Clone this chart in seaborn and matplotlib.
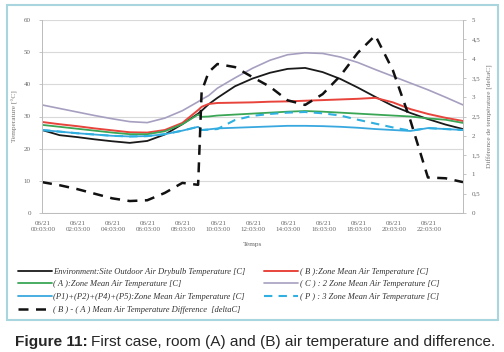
import numpy as np
import pandas as pd
import matplotlib
matplotlib.use("Agg")
import matplotlib.pyplot as plt
import seaborn as sns
from matplotlib.patches import Rectangle
from matplotlib.ticker import FuncFormatter

# --- Datos (hora del día) ---
hours = [0, 1, 2, 3, 4, 5, 6, 7, 8, 8.9, 9.1, 9.5, 10, 11, 12, 13, 14, 15,
         16, 17, 18, 19, 20, 21, 22, 23, 24]

outdoor = [25.8, 24.2, 23.6, 22.9, 22.3, 21.8, 22.4, 24.4, 27.6, 30.9, 31.8, 33.8,
           35.8, 39.4, 41.8, 43.6, 44.8, 45.1, 43.8, 41.7, 39.0, 36.1, 33.3, 31.1,
           29.2, 27.5, 26.1]
zone_b = [28.3, 27.6, 27.0, 26.3, 25.7, 25.1, 25.0, 25.8, 28.0, 32.0, 33.0, 33.9,
          34.2, 34.3, 34.4, 34.6, 34.7, 34.9, 35.1, 35.3, 35.5, 35.8, 34.4, 32.3,
          30.8, 29.6, 28.6]
zone_a = [27.4, 26.8, 26.2, 25.6, 25.0, 24.5, 24.5, 25.4, 27.6, 30.6, 29.9, 30.0,
          30.3, 30.6, 30.9, 31.2, 31.5, 31.7, 31.5, 31.2, 30.9, 30.6, 30.3, 30.0,
          29.4, 29.0, 28.0]
zone_c = [33.6, 32.5, 31.4, 30.3, 29.3, 28.4, 28.1, 29.5, 31.8, 34.6, 35.3, 36.5,
          38.8, 42.0, 45.0, 47.5, 49.2, 49.8, 49.6, 48.5, 46.8, 44.6, 42.5, 40.4,
          38.3, 36.0, 33.6]
zone_p = [25.8, 25.3, 24.8, 24.4, 24.0, 23.8, 23.9, 24.5, 25.6, 26.8, 25.8, 26.0,
          26.3, 26.5, 26.7, 26.9, 27.1, 27.1, 27.0, 26.8, 26.5, 26.1, 25.8, 25.5,
          26.4, 26.1, 25.8]
zone_p3 = [25.8, 25.3, 24.8, 24.4, 24.0, 23.8, 23.9, 24.5, 25.6, 26.8, 25.8, 25.9,
           26.1, 28.9, 30.2, 30.8, 31.2, 31.4, 31.0, 30.3, 29.0, 27.8, 26.6, 25.6,
           26.4, 26.1, 25.8]
diff_ba = [0.80, 0.72, 0.62, 0.50, 0.38, 0.31, 0.33, 0.52, 0.78, 0.73, 3.15, 3.65,
           3.86, 3.78, 3.52, 3.27, 2.92, 2.80, 3.08, 3.55, 4.15, 4.60, 3.70, 2.40,
           0.92, 0.90, 0.80]

labels = ["Environment:Site Outdoor Air Drybulb Temperature [C]",
          "( A ):Zone Mean Air Temperature [C]",
          "(P1)+(P2)+(P4)+(P5):Zone Mean Air Temperature [C]",
          "( B ) - ( A ) Mean Air Temperature Difference  [deltaC]",
          "( B ):Zone Mean Air Temperature [C]",
          "( C ) : 2 Zone Mean Air Temperature [C]",
          "( P ) : 3 Zone Mean Air Temperature [C]"]

tick_hours = [0.05 + 2 * k for k in range(12)]
tick_labels = ["06/21\n%02d:03:00" % (2 * k) for k in range(12)]

sns.set_style("white")
plt.rcParams['font.family'] = ['Liberation Serif', 'DejaVu Serif']

fig = plt.figure(figsize=(5.04, 3.52), dpi=100)
ax = fig.add_axes([42 / 504, 1 - 213 / 352, 421 / 504, 193 / 352])
ax2 = ax.twinx()

df = pd.DataFrame({'h': hours, 'out': outdoor, 'a': zone_a, 'p': zone_p,
                   'b': zone_b, 'c': zone_c, 'p3': zone_p3, 'd': diff_ba})

sns.lineplot(data=df, x='h', y='c', ax=ax, color='#a79fc0', lw=1.2)
sns.lineplot(data=df, x='h', y='out', ax=ax, color='#1a1a1a', lw=1.3)
sns.lineplot(data=df, x='h', y='b', ax=ax, color='#e8443c', lw=1.4)
sns.lineplot(data=df, x='h', y='a', ax=ax, color='#3aa655', lw=1.3)
sns.lineplot(data=df, x='h', y='p', ax=ax, color='#39a8df', lw=1.3)
sns.lineplot(data=df, x='h', y='p3', ax=ax, color='#2fb0e0', lw=1.5, linestyle='--')
ax.lines[5].set_dashes((4, 3))
sns.lineplot(data=df, x='h', y='d', ax=ax2, color='#111111', lw=1.8, linestyle='--')
ax2.lines[0].set_dashes((4, 3))

ax.set_xlim(0, 24)
ax.set_ylim(0, 60)
ax2.set_ylim(0, 5)
ax.set_yticks(range(0, 61, 10))
ax2.set_yticks(np.arange(0, 5.01, 0.5))
ax2.yaxis.set_major_formatter(FuncFormatter(lambda v, p: ("%g" % v).replace('.', ',')))
ax.set_xticks(tick_hours)
ax.set_xticklabels(tick_labels)
ax.set_xticks(range(0, 25), minor=True)

ax.grid(axis='y', color='#d9d9d9', lw=0.8)
ax.set_axisbelow(True)
for a in (ax, ax2):
    for s in a.spines.values():
        s.set_color('#bdbdbd')
        s.set_linewidth(0.7)
    a.spines['top'].set_visible(False)
ax.tick_params(axis='both', which='both', labelsize=5, colors='#bdbdbd',
               labelcolor='#666666', length=2, width=0.6, direction='out')
ax2.tick_params(axis='y', labelsize=5, colors='#bdbdbd', labelcolor='#666666',
                length=2, width=0.6, pad=4)
ax.tick_params(axis='y', pad=6)
ax.tick_params(axis='x', which='major', length=0, pad=6)
ax.tick_params(axis='x', which='minor', length=2)

ax.set_xlabel('Temps', fontsize=5.3, color='#666666', labelpad=7)
ax.set_ylabel('Temperature [°C]', fontsize=5.3, color='#777777', labelpad=4)
ax2.set_ylabel('Différence de température [deltaC]', fontsize=5.3, color='#777777',
               labelpad=5)

# Leyenda en dos columnas bajo el gráfico
handles = [ax.lines[1], ax.lines[3], ax.lines[4], ax2.lines[0],
           ax.lines[2], ax.lines[0], ax.lines[5]]
leg = fig.legend(handles, labels, ncol=2, loc='upper left',
                 bbox_to_anchor=(0.02, 1 - 260 / 352), frameon=False,
                 prop={'size': 6.1, 'style': 'italic', 'family': 'Liberation Serif'},
                 handlelength=4.0, handletextpad=0.2, labelspacing=0.55,
                 columnspacing=2.2)
for t in leg.get_texts():
    t.set_color('#333333')

fig.patches.append(Rectangle((7 / 504, 1 - 320 / 352), 491 / 504, 315 / 352,
                             transform=fig.transFigure, fill=False,
                             edgecolor='#a9d6de', lw=1.5))

# Pie de figura: parte en negrita + resto normal
cap_y = 1 - 342 / 352
t1 = fig.text(15 / 504, cap_y, "Figure 11:", ha='left', va='center',
              fontsize=11.1, fontweight='bold', family='Liberation Sans')
fig.canvas.draw()
bb = t1.get_window_extent()
fig.text((bb.x1 + 3) / 504, cap_y, "First case, room (A) and (B) air temperature and difference.",
         ha='left', va='center', fontsize=11.1, family='Liberation Sans')

fig.savefig('out.png', dpi=100)
